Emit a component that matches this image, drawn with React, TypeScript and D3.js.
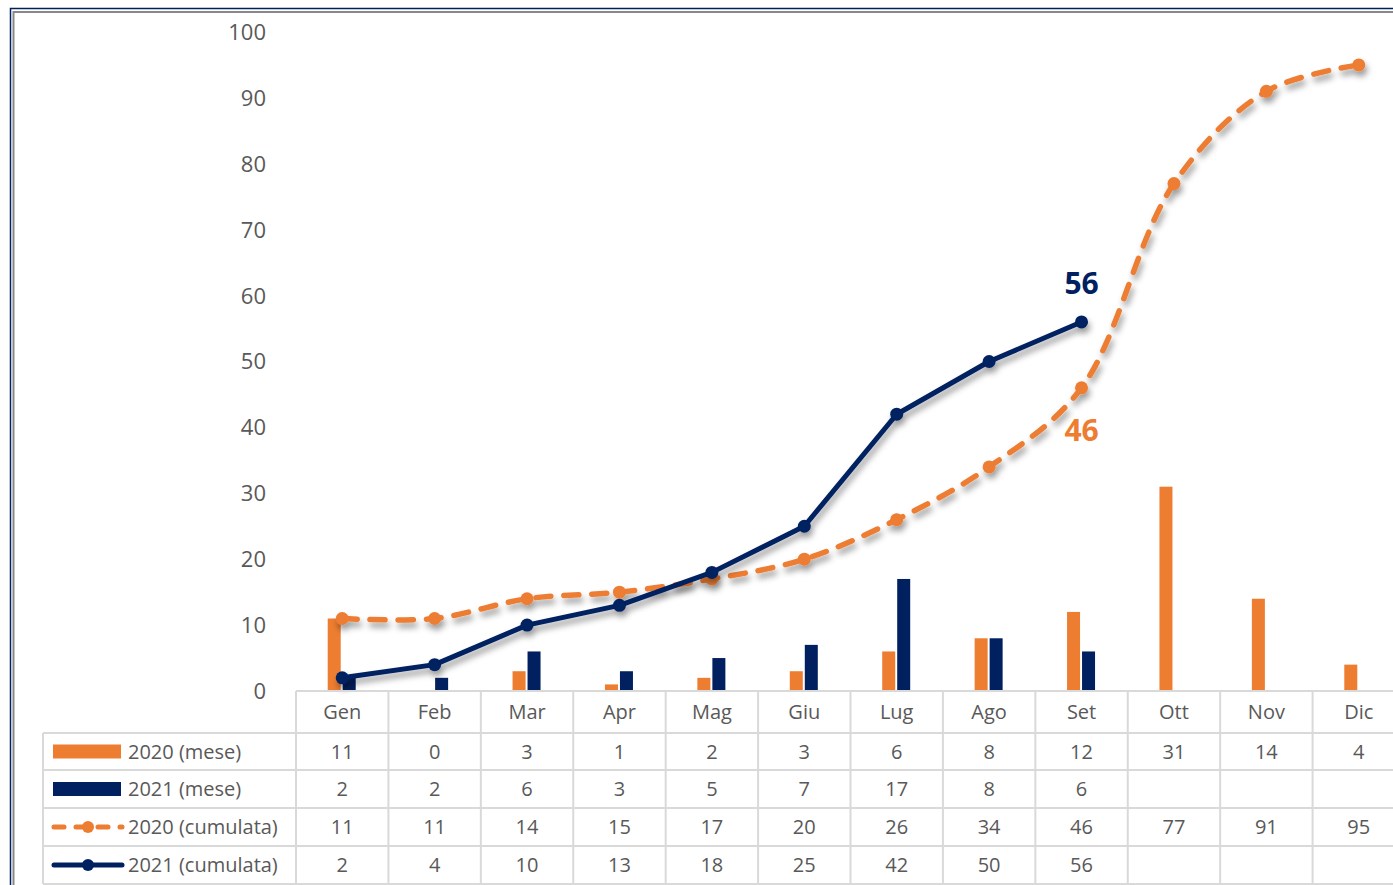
import React, { useEffect, useRef } from "react";
import * as d3 from "d3";

const months = ["Gen", "Feb", "Mar", "Apr", "Mag", "Giu", "Lug", "Ago", "Set", "Ott", "Nov", "Dic"];
const mese2020 = [11, 0, 3, 1, 2, 3, 6, 8, 12, 31, 14, 4];
const mese2021 = [2, 2, 6, 3, 5, 7, 17, 8, 6];
const cum2020 = [11, 11, 14, 15, 17, 20, 26, 34, 46, 77, 91, 95];
const cum2021 = [2, 4, 10, 13, 18, 25, 42, 50, 56];
const yTicks = [0, 10, 20, 30, 40, 50, 60, 70, 80, 90, 100];

const ORANGE = "#ED7D31";
const NAVY = "#002060";
const GREY = "#595959";
const GRID = "#d9d9d9";
const FONT = "Open Sans, sans-serif";

export default function App() {
  const ref = useRef<SVGSVGElement>(null);

  useEffect(() => {
    const svg = d3.select(ref.current);
    svg.selectAll("*").remove();

    const W = 1393, H = 885;
    // frame
    svg.append("rect").attr("x", 0).attr("y", 0).attr("width", W).attr("height", H).attr("fill", "#fff");
    svg.append("path").attr("d", `M10.5,${H} V8.5 H${W}`).attr("fill", "none").attr("stroke", NAVY).attr("stroke-width", 1.5);
    svg.append("path").attr("d", `M13.5,${H} V12 H${W}`).attr("fill", "none").attr("stroke", "#888").attr("stroke-width", 2);

    const defs = svg.append("defs");
    const f = defs.append("filter").attr("id", "shadow").attr("x", "-10%").attr("y", "-10%").attr("width", "130%").attr("height", "140%");
    f.append("feDropShadow").attr("dx", 2).attr("dy", 5).attr("stdDeviation", 3).attr("flood-color", "#000").attr("flood-opacity", 0.4);

    const x = d3.scaleBand<string>().domain(months).range([296, 1405]);
    const bw = x.bandwidth();
    const cx = (i: number) => (x(months[i]) as number) + bw / 2;
    const y = d3.scaleLinear().domain([0, 100]).range([691, 32]);

    // y axis labels
    svg.append("g").selectAll("text").data(yTicks).enter().append("text")
      .attr("x", 266).attr("y", d => y(d)).attr("dy", "0.36em")
      .attr("text-anchor", "end").attr("font-family", FONT).attr("font-size", 22).attr("fill", GREY)
      .text(d => d);

    // bars
    const barW = 13;
    svg.append("g").selectAll("rect").data(mese2020).enter().append("rect")
      .attr("x", (d, i) => cx(i) - barW - 1.5).attr("width", barW)
      .attr("y", d => y(d)).attr("height", d => y(0) - y(d)).attr("fill", ORANGE);
    svg.append("g").selectAll("rect").data(mese2021).enter().append("rect")
      .attr("x", (d, i) => cx(i) + 0.5).attr("width", barW)
      .attr("y", d => y(d)).attr("height", d => y(0) - y(d)).attr("fill", NAVY);

    // lines
    const line = d3.line<number>().x((d, i) => cx(i)).y(d => y(d)).curve(d3.curveCatmullRom.alpha(0.5));
    const lineStraight = d3.line<number>().x((d, i) => cx(i)).y(d => y(d));

    const g20 = svg.append("g").attr("filter", "url(#shadow)");
    g20.append("path").attr("d", line(cum2020)).attr("fill", "none").attr("stroke", ORANGE)
      .attr("stroke-width", 5.5).attr("stroke-dasharray", "15 13").attr("stroke-linecap", "round");
    g20.selectAll("circle").data(cum2020).enter().append("circle")
      .attr("cx", (d, i) => cx(i)).attr("cy", d => y(d)).attr("r", 6.5).attr("fill", ORANGE);

    const g21 = svg.append("g").attr("filter", "url(#shadow)");
    g21.append("path").attr("d", lineStraight(cum2021)).attr("fill", "none").attr("stroke", NAVY)
      .attr("stroke-width", 5).attr("stroke-linejoin", "round");
    g21.selectAll("circle").data(cum2021).enter().append("circle")
      .attr("cx", (d, i) => cx(i)).attr("cy", d => y(d)).attr("r", 6.5).attr("fill", NAVY);

    // end labels
    svg.append("text").attr("x", cx(8)).attr("y", y(56) - 28).attr("text-anchor", "middle")
      .attr("font-family", FONT).attr("font-weight", "bold").attr("font-size", 30).attr("fill", NAVY).text(cum2021[8]);
    svg.append("text").attr("x", cx(8)).attr("y", y(46) + 53).attr("text-anchor", "middle")
      .attr("font-family", FONT).attr("font-weight", "bold").attr("font-size", 30).attr("fill", ORANGE).text(cum2020[8]);

    // data table
    const rowsY = [691, 733, 770, 808, 846, 884];
    const tbl = svg.append("g");
    tbl.append("line").attr("x1", 296).attr("x2", W).attr("y1", rowsY[0]).attr("y2", rowsY[0]).attr("stroke", GRID).attr("stroke-width", 2);
    rowsY.slice(1).forEach(ry => {
      tbl.append("line").attr("x1", 43).attr("x2", W).attr("y1", ry).attr("y2", ry).attr("stroke", GRID).attr("stroke-width", 2);
    });
    tbl.append("line").attr("x1", 43).attr("x2", 43).attr("y1", rowsY[1]).attr("y2", rowsY[5]).attr("stroke", GRID).attr("stroke-width", 2);
    months.forEach(m => {
      const xx = x(m) as number;
      tbl.append("line").attr("x1", xx).attr("x2", xx).attr("y1", rowsY[0]).attr("y2", rowsY[5]).attr("stroke", GRID).attr("stroke-width", 2);
    });

    tbl.selectAll("text.m").data(months).enter().append("text").attr("class", "m")
      .attr("x", (d, i) => cx(i)).attr("y", (rowsY[0] + rowsY[1]) / 2).attr("dy", "0.36em")
      .attr("text-anchor", "middle").attr("font-family", FONT).attr("font-size", 20).attr("fill", GREY).text(d => d);

    const series = [
      { name: "2020 (mese)", vals: mese2020 },
      { name: "2021 (mese)", vals: mese2021 },
      { name: "2020 (cumulata)", vals: cum2020 },
      { name: "2021 (cumulata)", vals: cum2021 },
    ];
    series.forEach((s, r) => {
      const my = (rowsY[r + 1] + rowsY[r + 2]) / 2;
      tbl.append("g").selectAll("text").data(s.vals).enter().append("text")
        .attr("x", (d, i) => cx(i)).attr("y", my).attr("dy", "0.36em")
        .attr("text-anchor", "middle").attr("font-family", FONT).attr("font-size", 20).attr("fill", GREY).text(d => d);
      tbl.append("text").attr("x", 128).attr("y", my).attr("dy", "0.36em")
        .attr("font-family", FONT).attr("font-size", 20).attr("fill", GREY).text(s.name);
      if (r === 0 || r === 1) {
        tbl.append("rect").attr("x", 53).attr("y", my - 7).attr("width", 68).attr("height", 14).attr("fill", r === 0 ? ORANGE : NAVY);
      } else if (r === 2) {
        tbl.append("line").attr("x1", 54).attr("x2", 122).attr("y1", my).attr("y2", my).attr("stroke", ORANGE)
          .attr("stroke-width", 5).attr("stroke-dasharray", "10 12").attr("stroke-linecap", "round");
        tbl.append("circle").attr("cx", 88).attr("cy", my).attr("r", 6).attr("fill", ORANGE);
      } else {
        tbl.append("line").attr("x1", 54).attr("x2", 122).attr("y1", my).attr("y2", my).attr("stroke", NAVY)
          .attr("stroke-width", 5).attr("stroke-linecap", "round");
        tbl.append("circle").attr("cx", 88).attr("cy", my).attr("r", 6).attr("fill", NAVY);
      }
    });
  }, []);

  return (
    <svg ref={ref} width={1393} height={885} style={{ position: "absolute", left: 0, top: 0, display: "block" }} />
  );
}
